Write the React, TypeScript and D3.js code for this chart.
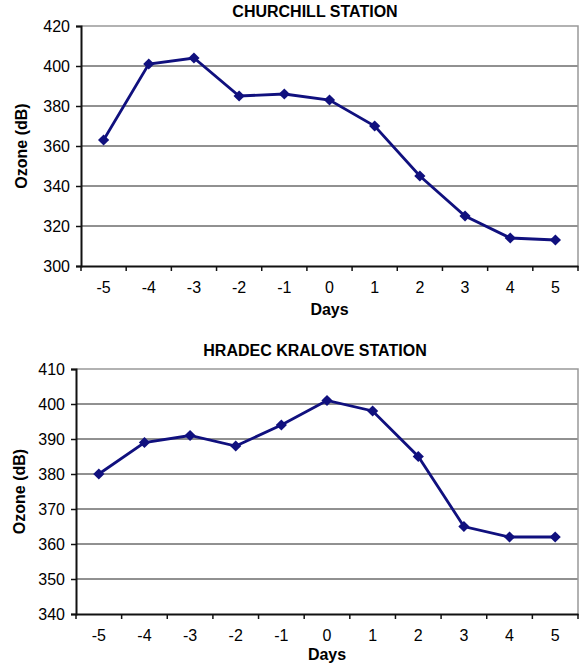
import React, { useRef, useEffect } from 'react';
import * as d3 from 'd3';

const days = ['-5', '-4', '-3', '-2', '-1', '0', '1', '2', '3', '4', '5'];
const churchillOzone = [363, 401, 404, 385, 386, 383, 370, 345, 325, 314, 313];
const hradecOzone = [380, 389, 391, 388, 394, 401, 398, 385, 365, 362, 362];
const churchillTicks = [300, 320, 340, 360, 380, 400, 420];
const hradecTicks = [340, 350, 360, 370, 380, 390, 400, 410];

const FONT = 'Liberation Sans, Arial, sans-serif';
const LINE = '#10107e';

function Chart({ title, values, ticks, box }) {
  const gRef = useRef();

  useEffect(() => {
    const g = d3.select(gRef.current);
    g.selectAll('*').remove();
    const { left, right, top, bottom } = box;

    const x = d3.scaleBand().domain(days).range([left, right]);
    const y = d3.scaleLinear().domain([ticks[0], ticks[ticks.length - 1]]).range([bottom, top]);

    // grid lines
    g.selectAll('.grid')
      .data(ticks.slice(1, -1))
      .join('line')
      .attr('x1', left).attr('x2', right)
      .attr('y1', d => y(d)).attr('y2', d => y(d))
      .attr('stroke', '#222').attr('stroke-width', 1);

    // top/right border
    g.append('path')
      .attr('d', `M${left},${top}H${right}V${bottom}`)
      .attr('fill', 'none').attr('stroke', '#999').attr('stroke-width', 1.5);

    const yAxis = g.append('g')
      .attr('transform', `translate(${left},0)`)
      .call(d3.axisLeft(y).tickValues(ticks).tickSize(5).tickPadding(6));
    yAxis.select('.domain').attr('stroke', '#111').attr('stroke-width', 2);
    yAxis.selectAll('.tick line').attr('stroke', '#111').attr('stroke-width', 1.5);
    yAxis.selectAll('text').attr('font-family', FONT).attr('font-size', 16).attr('fill', '#000');

    // x axis: ticks between categories
    const xAxis = g.append('g')
      .attr('transform', `translate(0,${bottom})`)
      .call(d3.axisBottom(x).tickSize(0).tickPadding(16));
    xAxis.select('.domain').attr('stroke', '#111').attr('stroke-width', 2);
    xAxis.selectAll('text').attr('font-family', FONT).attr('font-size', 16).attr('fill', '#000');
    g.selectAll('.xtick')
      .data(days)
      .join('line')
      .attr('x1', d => x(d)).attr('x2', d => x(d))
      .attr('y1', bottom).attr('y2', bottom + 5)
      .attr('stroke', '#111').attr('stroke-width', 1.5);
    g.append('line')
      .attr('x1', right).attr('x2', right)
      .attr('y1', bottom).attr('y2', bottom + 5)
      .attr('stroke', '#111').attr('stroke-width', 1.5);

    const cx = d => x(d) + x.bandwidth() / 2;
    const pts = days.map((d, i) => [cx(d), y(values[i])]);

    g.append('path')
      .attr('d', d3.line()(pts))
      .attr('fill', 'none').attr('stroke', LINE).attr('stroke-width', 2.8);

    g.selectAll('.marker')
      .data(pts)
      .join('path')
      .attr('d', d3.symbol(d3.symbolDiamond2, 80)())
      .attr('transform', p => `translate(${p[0]},${p[1]})`)
      .attr('fill', LINE);

    g.append('text')
      .attr('x', 315).attr('y', box.titleY)
      .attr('text-anchor', 'middle')
      .attr('font-family', FONT).attr('font-weight', 'bold').attr('font-size', 16)
      .attr('fill', '#000')
      .text(title);

    g.append('text')
      .attr('x', (left + right) / 2).attr('y', box.daysY)
      .attr('text-anchor', 'middle')
      .attr('font-family', FONT).attr('font-weight', 'bold').attr('font-size', 16)
      .attr('fill', '#000')
      .text('Days');

    g.append('text')
      .attr('transform', `translate(${box.yLabelX},${(top + bottom) / 2}) rotate(-90)`)
      .attr('text-anchor', 'middle')
      .attr('font-family', FONT).attr('font-weight', 'bold').attr('font-size', 16)
      .attr('fill', '#000')
      .text('Ozone (dB)');
  }, [title, values, ticks, box]);

  return <g ref={gRef} />;
}

const topBox = { left: 81, right: 578, top: 26, bottom: 266, yLabelX: 27, titleY: 17, daysY: 315 };
const bottomBox = { left: 76, right: 578, top: 369, bottom: 614, yLabelX: 25, titleY: 356, daysY: 660 };

export default function App() {
  return (
    <svg width={579} height={667} style={{ position: 'absolute', left: 0, top: 0, background: '#fff' }}>
      <Chart title="CHURCHILL STATION" values={churchillOzone} ticks={churchillTicks} box={topBox} />
      <Chart title="HRADEC KRALOVE STATION" values={hradecOzone} ticks={hradecTicks} box={bottomBox} />
    </svg>
  );
}
